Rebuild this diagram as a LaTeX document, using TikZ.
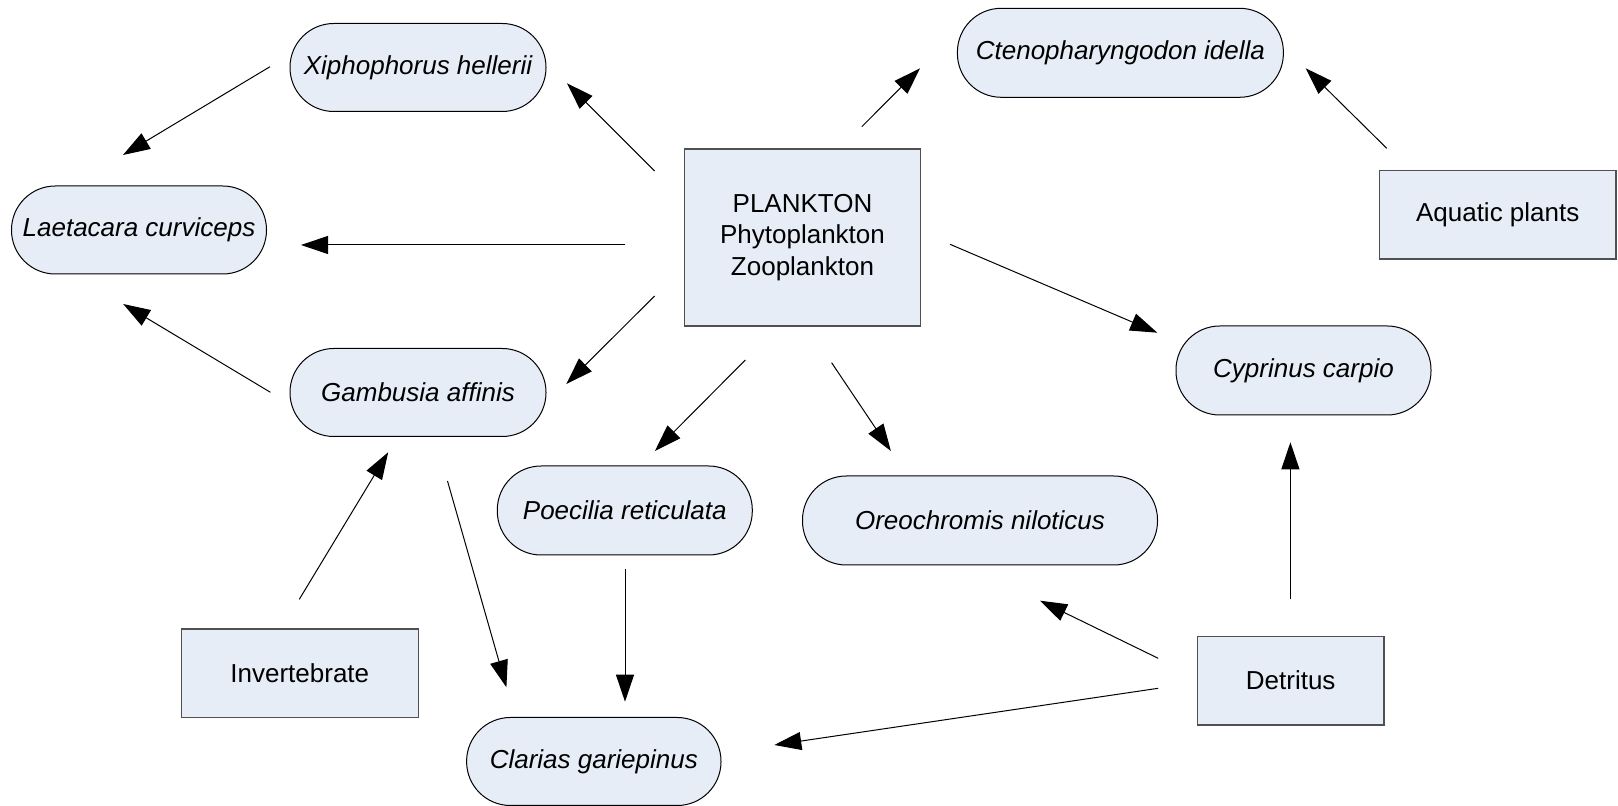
\documentclass[tikz,border=0pt]{standalone}
\usepackage{fontspec}
\setmainfont{Liberation Sans}
\usetikzlibrary{arrows.meta}
\definecolor{nodefill}{RGB}{230,237,247}
\definecolor{boxline}{RGB}{80,80,80}
\begin{document}
\begin{tikzpicture}[x=0.5pt,y=-0.5pt,
  pill/.style={draw=black, line width=0.5pt, fill=nodefill, rounded corners=21.9pt,
    minimum height=44pt, inner sep=0pt, font=\fontsize{13}{15.85}\selectfont\itshape},
  sbox/.style={draw=boxline, line width=0.7pt, fill=nodefill, minimum height=44pt,
    inner sep=0pt, align=center, font=\fontsize{13}{15.85}\selectfont},
  arr/.style={line width=0.5pt, -{Triangle[length=13.5pt,width=9pt]}}]
\useasboundingbox (0,0) rectangle (1618,806);

% nodes
\node[pill, minimum width=128pt] (xiph) at (418,67.5) {Xiphophorus hellerii};
\node[pill, minimum width=127.5pt] (laet) at (139,230) {Laetacara curviceps};
\node[pill, minimum width=128pt] (gamb) at (418,392.5) {Gambusia affinis};
\node[pill, minimum width=163pt, minimum height=44.5pt] (cteno) at (1120.4,52.8) {Ctenopharyngodon idella};
\node[pill, minimum width=127.5pt, minimum height=44.5pt] (cypr) at (1303.5,370.5) {Cyprinus carpio};
\node[pill, minimum width=127.5pt, minimum height=44.5pt] (poec) at (624.8,510.5) {Poecilia reticulata};
\node[pill, minimum width=177.5pt, minimum height=44.5pt] (oreo) at (980,520.5) {Oreochromis niloticus};
\node[pill, minimum width=127.2pt] (clar) at (593.8,761.5) {Clarias gariepinus};
\node[sbox, minimum width=118.2pt, minimum height=88.5pt] (plank) at (802.5,237.5) {PLANKTON\\Phytoplankton\\Zooplankton};
\node[sbox, minimum width=118.3pt, minimum height=44.2pt] (aqua) at (1497.7,215) {Aquatic plants};
\node[sbox, minimum width=118.4pt, minimum height=44.2pt] (inv) at (299.8,673.2) {Invertebrate};
\node[sbox, minimum width=93.3pt, minimum height=44.4pt] (detr) at (1290.7,680.7) {Detritus};

% connector ends (connectors stop short of the nodes)
\coordinate (xiph-laet-a) at (270,66.7);     \coordinate (xiph-laet-b) at (123,155);
\coordinate (plank-xiph-a) at (654.6,171);   \coordinate (plank-xiph-b) at (567,83.3);
\coordinate (plank-laet-a) at (625.4,245);   \coordinate (plank-laet-b) at (301,245);
\coordinate (plank-gamb-a) at (654.6,296);   \coordinate (plank-gamb-b) at (566.3,384);
\coordinate (plank-cteno-a) at (861.8,126.7); \coordinate (plank-cteno-b) at (920,68.3);
\coordinate (aqua-cteno-a) at (1386.7,148.3); \coordinate (aqua-cteno-b) at (1305.7,68.3);
\coordinate (plank-cypr-a) at (950,244.3);   \coordinate (plank-cypr-b) at (1157.3,332.7);
\coordinate (plank-poec-a) at (745.3,360);   \coordinate (plank-poec-b) at (654.9,451);
\coordinate (plank-oreo-a) at (831.6,362.7); \coordinate (plank-oreo-b) at (890.9,451);
\coordinate (gamb-laet-a) at (270.4,392.3);  \coordinate (gamb-laet-b) at (123.2,304);
\coordinate (inv-gamb-a) at (299.3,599.3);   \coordinate (inv-gamb-b) at (388.2,452.3);
\coordinate (gamb-clar-a) at (447.5,481);    \coordinate (gamb-clar-b) at (506.4,687.3);
\coordinate (poec-clar-a) at (625,569.3);    \coordinate (poec-clar-b) at (625,701.7);
\coordinate (detr-oreo-a) at (1158.2,658.3); \coordinate (detr-oreo-b) at (1040,600.7);
\coordinate (detr-clar-a) at (1158.2,688.3); \coordinate (detr-clar-b) at (774.3,745);
\coordinate (detr-cypr-a) at (1290.4,599.3); \coordinate (detr-cypr-b) at (1290.4,442.3);

% connectors
\draw[arr] (xiph-laet-a) -- (xiph-laet-b);
\draw[arr] (plank-xiph-a) -- (plank-xiph-b);
\draw[arr] (plank-laet-a) -- (plank-laet-b);
\draw[arr] (plank-gamb-a) -- (plank-gamb-b);
\draw[arr] (plank-cteno-a) -- (plank-cteno-b);
\draw[arr] (aqua-cteno-a) -- (aqua-cteno-b);
\draw[arr] (plank-cypr-a) -- (plank-cypr-b);
\draw[arr] (plank-poec-a) -- (plank-poec-b);
\draw[arr] (plank-oreo-a) -- (plank-oreo-b);
\draw[arr] (gamb-laet-a) -- (gamb-laet-b);
\draw[arr] (inv-gamb-a) -- (inv-gamb-b);
\draw[arr] (gamb-clar-a) -- (gamb-clar-b);
\draw[arr] (poec-clar-a) -- (poec-clar-b);
\draw[arr] (detr-oreo-a) -- (detr-oreo-b);
\draw[arr] (detr-clar-a) -- (detr-clar-b);
\draw[arr] (detr-cypr-a) -- (detr-cypr-b);
\end{tikzpicture}
\end{document}
